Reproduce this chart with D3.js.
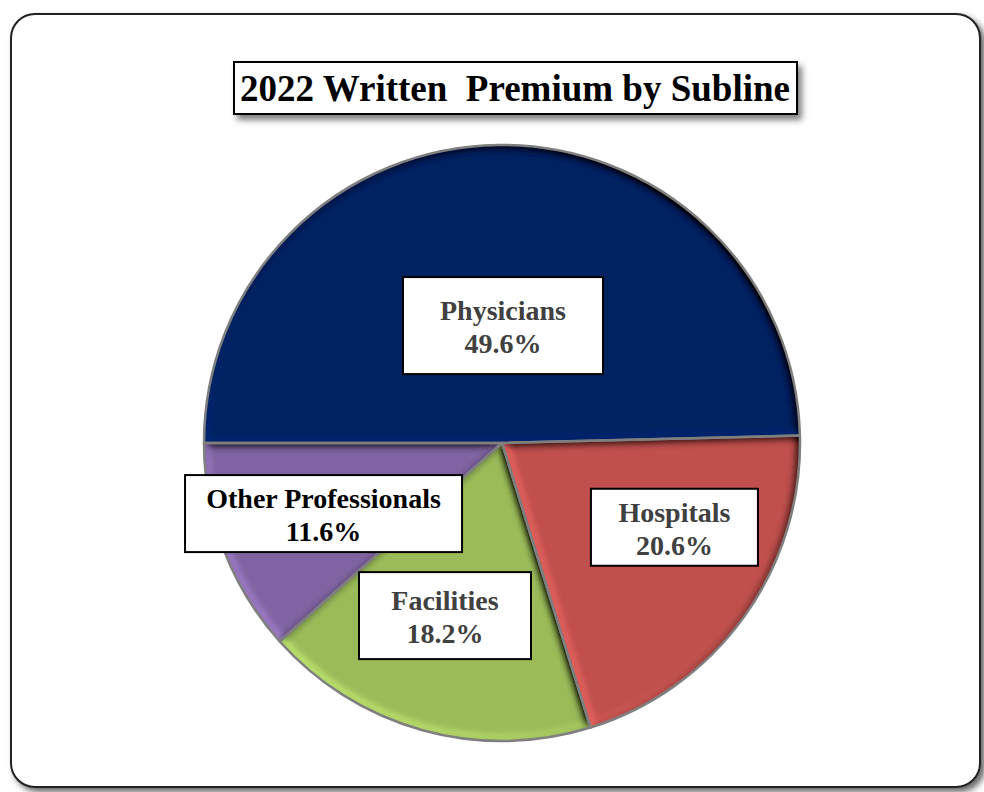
<!DOCTYPE html>
<html>
<head>
<meta charset="utf-8">
<script src="https://cdn.jsdelivr.net/npm/d3@7"></script>
<style>
  body { margin: 0; background: #fff; }
  svg { display: block; }
</style>
</head>
<body>
<svg id="chart" width="984" height="792"></svg>
<script>
const sublines = ['Physicians', 'Hospitals', 'Facilities', 'Other Professionals']
const shares = [49.6, 20.6, 18.2, 11.6]
const sliceColours = ['#002060', '#c0504d', '#9bbb59', '#8064a2']
const labelColours = ['#404040', '#404040', '#404040', '#000000']

const width = 984
const height = 792
const cx = 502
const cy = 443
const radius = 298
const serif = '"Liberation Serif", "Times New Roman", serif'

// label boxes: distance along radius (fraction), angle nudge (deg), box size
const labelLayout = [
  { r: 0.394, nudge: 1.2, w: 200, h: 97 },
  { r: 0.644, nudge: -9.6, w: 167, h: 77 },
  { r: 0.61, nudge: 2.8, w: 172, h: 87 },
  { r: 0.644, nudge: -0.7, w: 277, h: 77 }
]

const svg = d3.select('#chart')
const defs = svg.append('defs')

/* Shadows */
const shadow = defs.append('filter').attr('id', 'shadow')
  .attr('x', '-10%').attr('y', '-10%').attr('width', '130%').attr('height', '140%')
shadow.append('feDropShadow')
  .attr('dx', 4).attr('dy', 5).attr('stdDeviation', 3)
  .attr('flood-color', '#000').attr('flood-opacity', 0.5)

const frameShadow = defs.append('filter').attr('id', 'frameShadow')
  .attr('x', '-5%').attr('y', '-5%').attr('width', '115%').attr('height', '115%')
frameShadow.append('feDropShadow')
  .attr('dx', 4).attr('dy', 4).attr('stdDeviation', 3)
  .attr('flood-color', '#000').attr('flood-opacity', 0.6)

// soft bevel, light from lower left
const bevel = defs.append('filter').attr('id', 'bevel')
  .attr('x', '-5%').attr('y', '-5%').attr('width', '110%').attr('height', '110%')
bevel.append('feGaussianBlur')
  .attr('in', 'SourceAlpha').attr('stdDeviation', 4).attr('result', 'blur')
bevel.append('feDiffuseLighting')
  .attr('in', 'blur').attr('surfaceScale', 6).attr('diffuseConstant', 1)
  .attr('lighting-color', '#fff').attr('result', 'light')
  .append('feDistantLight').attr('azimuth', 135).attr('elevation', 45)
bevel.append('feComposite')
  .attr('in', 'SourceGraphic').attr('in2', 'light')
  .attr('operator', 'arithmetic')
  .attr('k1', 1.414).attr('k2', 0).attr('k3', 0).attr('k4', 0)
  .attr('result', 'lit')
bevel.append('feComposite')
  .attr('in', 'lit').attr('in2', 'SourceAlpha').attr('operator', 'in')

/* Outer frame */
svg.append('rect')
  .attr('x', 11).attr('y', 14)
  .attr('width', 969).attr('height', 773)
  .attr('rx', 24)
  .attr('fill', '#fff')
  .attr('stroke', '#222')
  .attr('stroke-width', 2)
  .attr('filter', 'url(#frameShadow)')

/* Pie */
const pie = d3.pie()
  .sort(null)
  .startAngle(-Math.PI / 2)
  .endAngle(Math.PI * 1.5)
  .value(d => d)

const arc = d3.arc().innerRadius(0).outerRadius(radius)
const arcs = pie(shares)

const pieG = svg.append('g').attr('transform', `translate(${cx},${cy})`)

pieG.selectAll('path.slice')
  .data(arcs)
  .enter().append('path')
  .attr('class', 'slice')
  .attr('d', arc)
  .attr('fill', (d, i) => sliceColours[i])
  .attr('filter', 'url(#bevel)')

pieG.selectAll('path.edge')
  .data(arcs)
  .enter().append('path')
  .attr('class', 'edge')
  .attr('d', arc)
  .attr('fill', 'none')
  .attr('stroke', '#7f7f7f')
  .attr('stroke-width', 2.5)
  .attr('stroke-linejoin', 'round')

/* Title */
svg.append('rect')
  .attr('x', 234).attr('y', 62)
  .attr('width', 563).attr('height', 52)
  .attr('fill', '#fff')
  .attr('stroke', '#000')
  .attr('stroke-width', 2)
  .attr('filter', 'url(#shadow)')

svg.append('text')
  .attr('x', 515).attr('y', 101)
  .attr('text-anchor', 'middle')
  .attr('font-family', serif)
  .attr('font-weight', 'bold')
  .attr('font-size', 37)
  .attr('fill', '#000')
  .style('white-space', 'pre')
  .text('2022 Written  Premium by Subline')

/* Data labels */
const labelG = svg.append('g')
arcs.forEach((d, i) => {
  const L = labelLayout[i]
  const mid = (d.startAngle + d.endAngle) / 2 + L.nudge * Math.PI / 180
  const lx = cx + Math.sin(mid) * radius * L.r
  const ly = cy - Math.cos(mid) * radius * L.r
  labelG.append('rect')
    .attr('x', lx - L.w / 2).attr('y', ly - L.h / 2)
    .attr('width', L.w).attr('height', L.h)
    .attr('fill', '#fff')
    .attr('stroke', '#000')
    .attr('stroke-width', 2)
  const t = labelG.append('text')
    .attr('x', lx).attr('y', ly)
    .attr('text-anchor', 'middle')
    .attr('font-family', serif)
    .attr('font-weight', 'bold')
    .attr('font-size', 28)
    .attr('fill', labelColours[i])
  t.append('tspan').attr('x', lx).attr('dy', -5.5).text(sublines[i])
  t.append('tspan').attr('x', lx).attr('dy', 33).text(shares[i].toFixed(1) + '%')
})
</script>
</body>
</html>
